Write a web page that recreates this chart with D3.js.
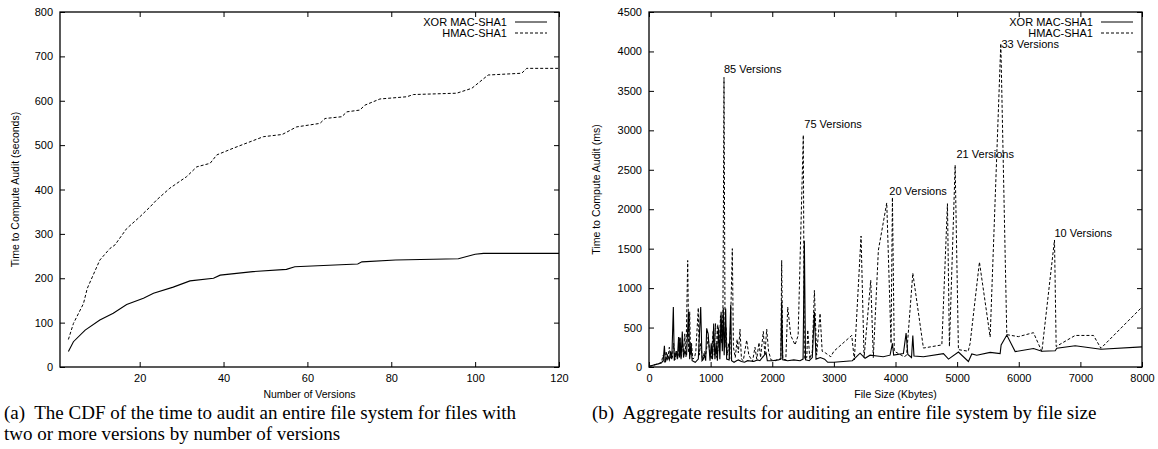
<!DOCTYPE html>
<html>
<head>
<meta charset="utf-8">
<script src="https://cdn.jsdelivr.net/npm/d3@7"></script>
<style>
  body { margin: 0; background: #fff; }
  svg text { font-family: "Liberation Sans", Arial, sans-serif; fill: #000; }
  .cap { font-family: "Liberation Serif", "Times New Roman", serif; font-size: 19px; white-space: pre; }
</style>
</head>
<body>
<svg id="chart" width="1158" height="449"></svg>
<script>
// ---- panel (a): CDF by number of versions
const cdfXorVersions = [3, 4.2, 7, 10.5, 13.7, 16.9, 20.9, 23.3, 28, 32, 37.6, 39.2, 47, 55, 57, 72, 73, 81, 96, 100, 102, 120];
const cdfXorSeconds  = [35, 57, 83, 106, 121, 141, 155, 166, 180, 194, 200, 207, 215, 220, 226, 232, 237, 241, 244, 254, 256, 256];
const cdfHmacVersions = [3, 4.2, 6.6, 7.5, 8.9, 10.5, 12.9, 14.1, 16.9, 20.1, 22.5, 24, 27.2, 31.2, 33.6, 36.8, 38.4, 42.3, 49.5, 54, 57.4, 63, 64.2, 68.2, 69.4, 72.5, 73.7, 77.3, 83.7, 85.3, 95.6, 99.2, 103.1, 111.1, 112.3, 120];
const cdfHmacSeconds  = [62, 98, 143, 177, 207, 241, 267, 275, 312, 339, 361, 376, 403, 429, 451, 459, 478, 493, 519, 524, 541, 549, 560, 564, 575, 579, 590, 604, 609, 614, 617, 628, 658, 662, 673, 673];
const cdfYTicks = [0, 100, 200, 300, 400, 500, 600, 700, 800];
const cdfXTicks = [20, 40, 60, 80, 100, 120];

// ---- panel (b): aggregate by file size (Kbytes, ms)
const sizeXor = [[0,10],[50,20],[100,30],[150,40],[200,50],[230,80],[250,270],[265,60],[300,150],[330,90],[350,200],[370,100],[395,760],[410,80],[440,200],[460,100],[480,380],[495,120],[505,370],[520,100],[540,450],[560,120],[580,200],[610,150],[640,700],[660,100],[680,300],[700,80],[750,60],[800,100],[839,760],[860,80],[880,100],[900,150],[920,80],[936,490],[960,420],[990,80],[1010,300],[1030,100],[1050,550],[1070,100],[1090,300],[1110,80],[1130,500],[1150,100],[1170,700],[1190,200],[1205,750],[1220,150],[1244,740],[1260,100],[1300,90],[1326,790],[1340,80],[1380,60],[1420,80],[1450,90],[1500,70],[1550,60],[1600,80],[1700,70],[1760,90],[1800,80],[1900,180],[1920,80],[2000,80],[2100,90],[2140,100],[2153,830],[2170,90],[2250,80],[2350,90],[2450,80],[2500,100],[2521,1600],[2540,90],[2600,80],[2650,120],[2684,700],[2710,100],[2780,120],[2850,100],[2900,60],[3000,60],[3300,80],[3425,175],[3506,110],[3588,150],[3700,140],[3800,130],[3912,150],[3950,300],[3970,150],[4128,170],[4172,430],[4200,160],[4260,120],[4281,400],[4300,140],[4453,130],[4778,170],[4860,100],[5021,190],[5183,70],[5238,165],[5319,150],[5536,185],[5698,170],[5714,280],[5806,405],[5942,195],[6239,235],[6375,200],[6591,205],[6618,237],[6916,270],[7333,225],[8000,255]];
const sizeHmac = [[0,10],[50,15],[100,30],[150,40],[200,60],[230,150],[250,60],[280,200],[300,80],[330,250],[350,100],[380,120],[400,300],[420,90],[450,200],[470,110],[500,380],[520,120],[545,300],[560,150],[580,420],[600,130],[628,1350],[645,180],[660,700],[675,150],[690,300],[710,100],[740,120],[760,200],[800,750],[815,150],[840,300],[870,80],[900,200],[920,150],[960,380],[990,150],[1010,100],[1040,450],[1060,150],[1080,550],[1100,120],[1115,540],[1140,200],[1160,650],[1180,300],[1200,700],[1217,3670],[1235,250],[1250,500],[1270,150],[1290,300],[1310,100],[1352,1500],[1370,250],[1400,120],[1430,350],[1450,180],[1477,480],[1500,100],[1530,80],[1585,340],[1620,150],[1680,70],[1720,250],[1748,100],[1785,310],[1810,120],[1855,450],[1880,150],[1910,480],[1940,200],[1980,90],[2050,80],[2100,100],[2140,100],[2153,1350],[2170,100],[2220,90],[2251,760],[2300,400],[2370,280],[2420,400],[2504,2940],[2520,100],[2560,120],[2576,470],[2610,100],[2650,200],[2684,970],[2720,150],[2776,680],[2810,200],[2860,180],[2950,130],[3000,200],[3290,400],[3332,90],[3441,1660],[3490,120],[3598,1100],[3640,120],[3722,1480],[3858,2080],[3928,300],[3950,2150],[3980,200],[4140,130],[4180,150],[4281,1190],[4453,240],[4752,280],[4843,2070],[4875,260],[4968,2560],[5021,220],[5180,200],[5211,300],[5362,1330],[5536,380],[5709,4100],[5806,410],[5995,385],[6239,435],[6375,195],[6580,1610],[6607,260],[6916,400],[7213,400],[7333,237],[8000,760]];
const sizeNotes = [
  {kb: 1217, ms: 3780, text: "85 Versions"},
  {kb: 2520, ms: 3080, text: "75 Versions"},
  {kb: 3900, ms: 2230, text: "20 Versions"},
  {kb: 4990, ms: 2700, text: "21 Versions"},
  {kb: 5720, ms: 4090, text: "33 Versions"},
  {kb: 6580, ms: 1700, text: "10 Versions"}
];
const sizeYTicks = [0, 500, 1000, 1500, 2000, 2500, 3000, 3500, 4000, 4500];
const sizeXTicks = [0, 1000, 2000, 3000, 4000, 5000, 6000, 7000, 8000];
const seriesNames = ["XOR MAC-SHA1", "HMAC-SHA1"];

const svg = d3.select('#chart');
const fmt = d3.format('d');

function panel(o){
  const g = svg.append('g');
  const x = d3.scaleLinear().domain(o.xdom).range([o.left, o.right]);
  const y = d3.scaleLinear().domain(o.ydom).range([o.bottom, o.top]);
  const axisStyle = sel => { sel.select('.domain').remove(); sel.selectAll('text').style('font-size','11px'); sel.selectAll('line').attr('stroke','#000'); };

  g.append('g').attr('transform',`translate(${o.left},0)`)
    .call(d3.axisLeft(y).tickValues(o.yticks).tickFormat(fmt).tickSize(-5).tickPadding(7)).call(axisStyle);
  g.append('g').attr('transform',`translate(${o.right},0)`)
    .call(d3.axisRight(y).tickValues(o.yticks).tickSize(-5).tickFormat('')).call(axisStyle);
  g.append('g').attr('transform',`translate(0,${o.bottom})`)
    .call(d3.axisBottom(x).tickValues(o.xticks).tickFormat(fmt).tickSize(-5).tickPadding(7)).call(axisStyle);
  g.append('g').attr('transform',`translate(0,${o.top})`)
    .call(d3.axisTop(x).tickValues(o.xticks).tickSize(-5).tickFormat('')).call(axisStyle);

  g.append('rect').attr('x',o.left).attr('y',o.top).attr('width',o.right-o.left).attr('height',o.bottom-o.top)
    .attr('fill','none').attr('stroke','#000').attr('stroke-width',1.3);

  const line = d3.line().x(d=>x(d[0])).y(d=>y(d[1]));
  g.append('path').datum(o.hmac).attr('d',line).attr('fill','none').attr('stroke','#000')
    .attr('stroke-width',1).attr('stroke-dasharray','3,2');
  g.append('path').datum(o.xor).attr('d',line).attr('fill','none').attr('stroke','#000').attr('stroke-width',1.1);

  // legend
  seriesNames.forEach((n,i)=>{
    const ly = o.top + 10 + i*11;
    g.append('text').attr('x',o.legendX).attr('y',ly).attr('dy','0.35em').attr('text-anchor','end').style('font-size','11px').text(n);
    g.append('line').attr('x1',o.legendX+8).attr('x2',o.legendX+40).attr('y1',ly).attr('y2',ly)
      .attr('stroke','#000').attr('stroke-width',1).attr('stroke-dasharray', i ? '3,2' : null);
  });

  g.append('text').attr('transform',`translate(${o.ylabX},${(o.top+o.bottom)/2}) rotate(-90)`)
    .attr('text-anchor','middle').attr('dy','0.35em').style('font-size','10.5px').text(o.ylab);
  g.append('text').attr('x',(o.left+o.right)/2).attr('y',398).attr('text-anchor','middle').style('font-size','10.5px').text(o.xlab);

  (o.notes||[]).forEach(n=>{
    g.append('text').attr('x',x(n.kb)).attr('y',y(n.ms)).attr('dy','0.35em').style('font-size','11px').text(n.text);
  });
  return g;
}

panel({
  left: 60, right: 559, top: 12, bottom: 367, xdom: [1,120], ydom: [0,800],
  xticks: cdfXTicks, yticks: cdfYTicks,
  xor: cdfXorVersions.map((v,i)=>[v, cdfXorSeconds[i]]),
  hmac: cdfHmacVersions.map((v,i)=>[v, cdfHmacSeconds[i]]),
  legendX: 507, ylabX: 15,
  ylab: "Time to Compute Audit (seconds)", xlab: "Number of Versions"
});

panel({
  left: 649, right: 1142, top: 12, bottom: 367, xdom: [0,8000], ydom: [0,4500],
  xticks: sizeXTicks, yticks: sizeYTicks,
  xor: sizeXor, hmac: sizeHmac, notes: sizeNotes,
  legendX: 1093, ylabX: 596,
  ylab: "Time to Compute Audit (ms)", xlab: "File Size (Kbytes)"
});

svg.append('text').attr('class','cap').attr('x',4).attr('y',419).text("(a)  The CDF of the time to audit an entire file system for files with");
svg.append('text').attr('class','cap').attr('x',4).attr('y',440).text("two or more versions by number of versions");
svg.append('text').attr('class','cap').attr('x',592).attr('y',419).text("(b)  Aggregate results for auditing an entire file system by file size");
</script>
</body>
</html>
